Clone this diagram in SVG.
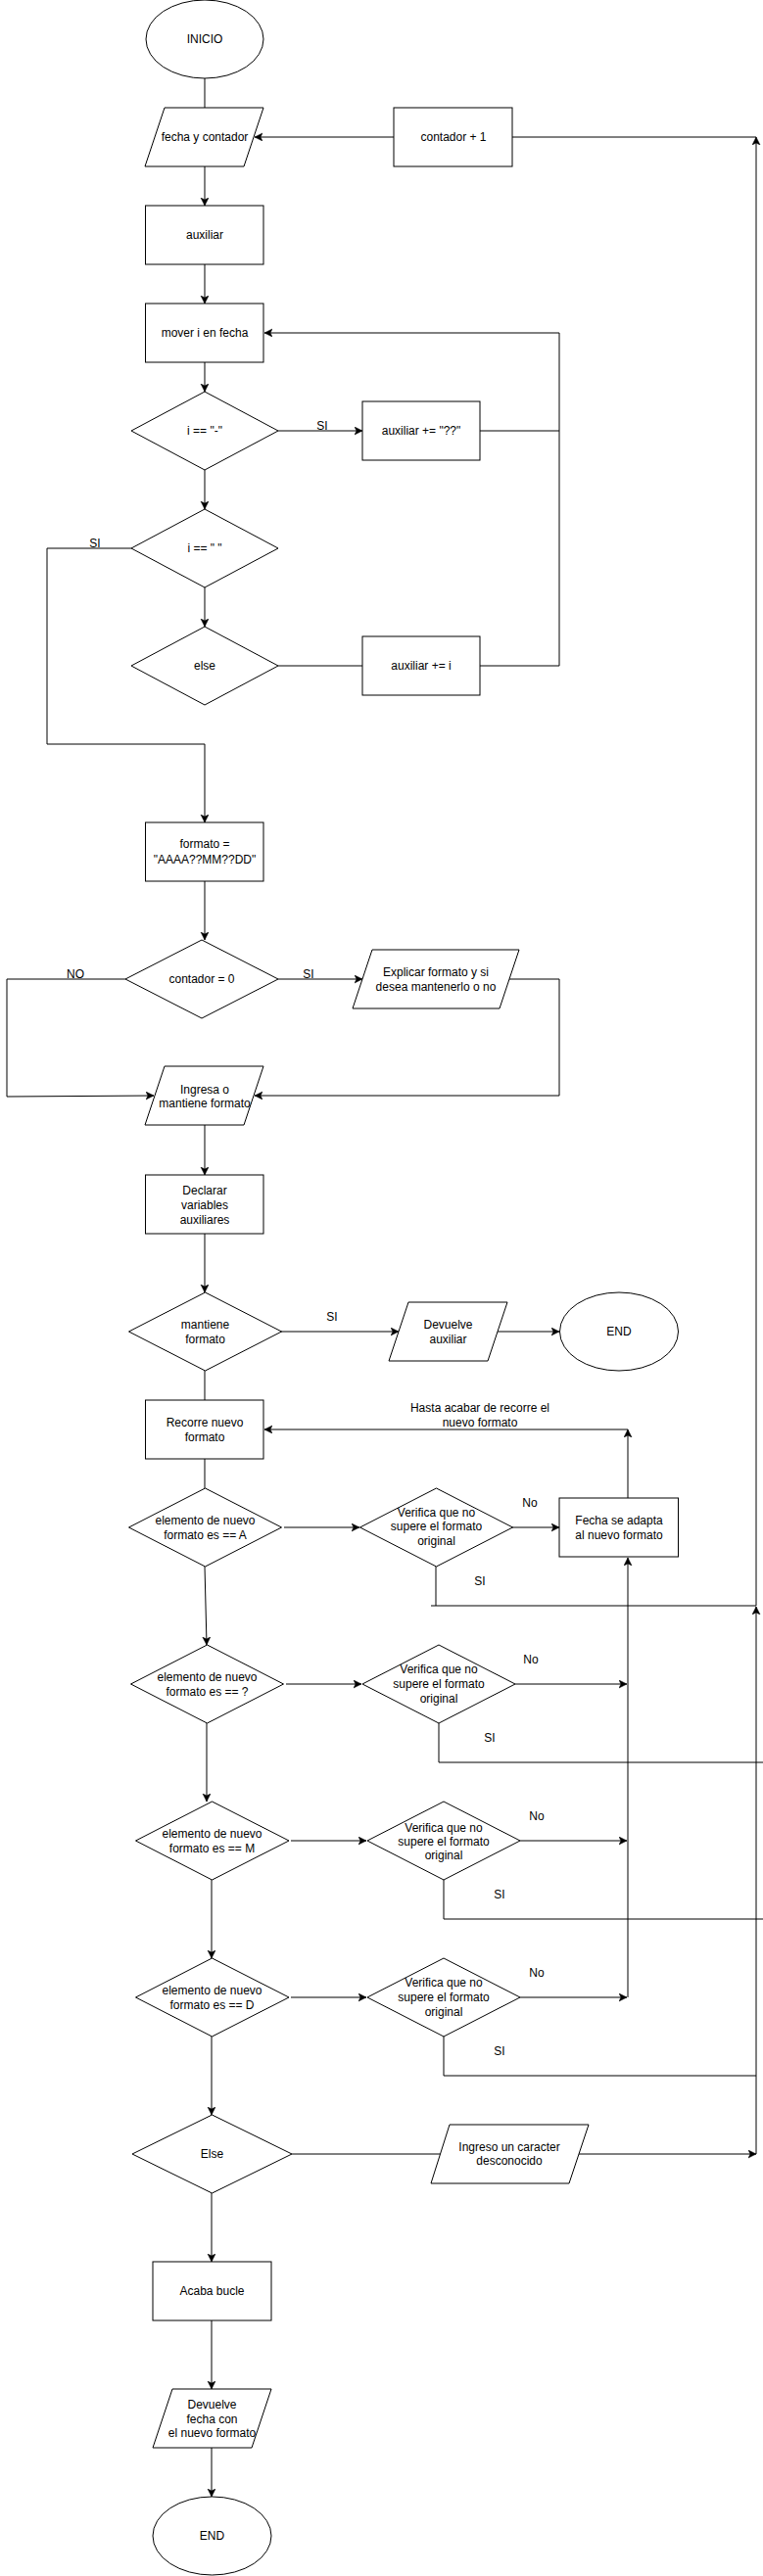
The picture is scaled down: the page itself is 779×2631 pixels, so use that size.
<svg xmlns="http://www.w3.org/2000/svg" width="779" height="2631" viewBox="0 0 779 2631">
<style>
.s{fill:#fff;stroke:#000;stroke-width:1}
.c{fill:none;stroke:#000;stroke-width:1}
.a{marker-end:url(#ah)}
text{font-family:"Liberation Sans",Arial,sans-serif;font-size:12px;fill:#000;text-anchor:middle;dominant-baseline:central}
</style>
<defs>
<marker id="ah" markerUnits="userSpaceOnUse" markerWidth="10" markerHeight="10" refX="8" refY="4" orient="auto">
<path d="M0,0 L8,4 L0,8 L2,4 Z" fill="#000" stroke="#000" stroke-width="0.5"/>
</marker>
</defs>
<rect width="779" height="2631" fill="#fff"/>
<g id="connectors">
<path class="c" d="M209,80 V110"/>
<path class="c a" d="M209,170 V210"/>
<path class="c a" d="M402,140 H260"/>
<path class="c a" d="M209,270 V310"/>
<path class="c a" d="M209,370 V400"/>
<path class="c a" d="M284,440 H370"/>
<path class="c a" d="M490,440 H571 V340 H270"/>
<path class="c a" d="M209,480 V520"/>
<path class="c a" d="M209,600 V640"/>
<path class="c a" d="M134,560 H48 V760 H209 V840"/>
<path class="c" d="M284,680 H370"/>
<path class="c" d="M490,680 H571 V440"/>
<path class="c a" d="M209,900 V960"/>
<path class="c a" d="M284,1000 H370"/>
<path class="c a" d="M520,1000 H571 V1119 H260"/>
<path class="c a" d="M128,1000 H7 V1120 L157,1119"/>
<path class="c a" d="M209,1149 V1200"/>
<path class="c a" d="M209,1260 V1320"/>
<path class="c a" d="M287,1360 H407"/>
<path class="c a" d="M508,1360 H571"/>
<path class="c" d="M209,1400 V1430"/>
<path class="c" d="M209,1490 V1520"/>
<path class="c a" d="M290,1560 H367"/>
<path class="c a" d="M523,1560 H571"/>
<path class="c a" d="M641,1530 V1460"/>
<path class="c a" d="M641,1460 H270"/>
<path class="c" d="M445,1600 V1640"/>
<path class="c" d="M440,1640 H772"/>
<path class="c a" d="M772,1640 V140"/>
<path class="c" d="M523,140 H772"/>
<path class="c a" d="M209,1600 L211,1680"/>
<path class="c a" d="M292,1720 H369"/>
<path class="c a" d="M526,1720 H640"/>
<path class="c" d="M448,1760 V1800 H782"/>
<path class="c a" d="M211,1760 V1840"/>
<path class="c a" d="M297,1880 H374"/>
<path class="c a" d="M531,1880 H640"/>
<path class="c" d="M453,1920 V1960 H782"/>
<path class="c a" d="M216,1920 V2000"/>
<path class="c a" d="M297,2040 H374"/>
<path class="c a" d="M531,2040 H640"/>
<path class="c a" d="M641,2040 V1591"/>
<path class="c" d="M453,2080 V2120 H772"/>
<path class="c a" d="M216,2080 V2160"/>
<path class="c" d="M298,2200 H450"/>
<path class="c a" d="M591,2200 H772"/>
<path class="c a" d="M772,2200 V1641"/>
<path class="c a" d="M216,2240 V2310"/>
<path class="c a" d="M216,2370 V2440"/>
<path class="c a" d="M216,2500 V2550"/>
<text x="329" y="435">SI</text>
<text x="97" y="555">SI</text>
<text x="315" y="995">SI</text>
<text x="77" y="995">NO</text>
<text x="339" y="1345">SI</text>
<text x="490" y="1438">Hasta acabar de recorre el</text>
<text x="490" y="1453">nuevo formato</text>
<text x="541" y="1535">No</text>
<text x="490" y="1615">SI</text>
<text x="542" y="1695">No</text>
<text x="500" y="1775">SI</text>
<text x="548" y="1855">No</text>
<text x="510" y="1935">SI</text>
<text x="548" y="2015">No</text>
<text x="510" y="2095">SI</text>
</g>
<g id="inicio"><ellipse class="s" cx="209" cy="40" rx="60" ry="40"/><text x="209" y="40">INICIO</text></g>
<g id="fecha"><path class="s" d="M168,110 H269 L249,170 H148 Z"/><text x="209" y="140">fecha y contador</text></g>
<g id="contador1"><rect class="s" x="402" y="110" width="121" height="60"/><text x="463" y="140">contador + 1</text></g>
<g id="auxiliar"><rect class="s" x="148.5" y="210" width="120.5" height="60"/><text x="209" y="240">auxiliar</text></g>
<g id="mover"><rect class="s" x="148.5" y="310" width="120.5" height="60"/><text x="209" y="340">mover i en fecha</text></g>
<g id="d_guion"><path class="s" d="M209,400 L284,440 L209,480 L134,440 Z"/><text x="209" y="440">i == "-"</text></g>
<g id="aux_q"><rect class="s" x="370" y="410" width="120" height="60"/><text x="430" y="440">auxiliar += "??"</text></g>
<g id="d_esp"><path class="s" d="M209,520 L284,560 L209,600 L134,560 Z"/><text x="209" y="560">i == " "</text></g>
<g id="d_else"><path class="s" d="M209,640 L284,680 L209,720 L134,680 Z"/><text x="209" y="680">else</text></g>
<g id="aux_i"><rect class="s" x="370" y="650" width="120" height="60"/><text x="430" y="680">auxiliar += i</text></g>
<g id="formato"><rect class="s" x="148.5" y="840" width="120.5" height="60"/><text x="209" y="862">formato =</text><text x="209" y="878">"AAAA??MM??DD"</text></g>
<g id="d_contador"><path class="s" d="M206,960 L284,1000 L206,1040 L128,1000 Z"/><text x="206" y="1000">contador = 0</text></g>
<g id="explicar"><path class="s" d="M380,970 H530 L510,1030 H360 Z"/><text x="445" y="993">Explicar formato y si</text><text x="445" y="1008">desea mantenerlo o no</text></g>
<g id="ingresa"><path class="s" d="M168,1089 H269 L249,1149 H148 Z"/><text x="209" y="1113">Ingresa o</text><text x="209" y="1127">mantiene formato</text></g>
<g id="declarar"><rect class="s" x="148.5" y="1200" width="120.5" height="60"/><text x="209" y="1216">Declarar</text><text x="209" y="1231">variables</text><text x="209" y="1246">auxiliares</text></g>
<g id="d_mantiene"><path class="s" d="M209.5,1320 L287.5,1360 L209.5,1400 L131.5,1360 Z"/><text x="209.5" y="1353">mantiene</text><text x="209.5" y="1368">formato</text></g>
<g id="devuelve_aux"><path class="s" d="M417,1330 H518 L498,1390 H397 Z"/><text x="457.5" y="1353">Devuelve</text><text x="457.5" y="1368">auxiliar</text></g>
<g id="end1"><ellipse class="s" cx="632" cy="1360" rx="60.5" ry="40"/><text x="632" y="1360">END</text></g>
<g id="recorre"><rect class="s" x="148.5" y="1430" width="120.5" height="60"/><text x="209" y="1453">Recorre nuevo</text><text x="209" y="1468">formato</text></g>
<g id="d_A"><path class="s" d="M209.5,1520 L287.5,1560 L209.5,1600 L131.5,1560 Z"/><text x="209.5" y="1553">elemento de nuevo</text><text x="209.5" y="1568">formato es == A</text></g>
<g id="v1"><path class="s" d="M445.5,1520 L523.5,1560 L445.5,1600 L367.5,1560 Z"/><text x="445.5" y="1545">Verifica que no</text><text x="445.5" y="1559">supere el formato</text><text x="445.5" y="1574">original</text></g>
<g id="fecha_adapta"><rect class="s" x="571" y="1530" width="121.5" height="60"/><text x="632" y="1553">Fecha se adapta</text><text x="632" y="1568">al nuevo formato</text></g>
<g id="d_Q"><path class="s" d="M211.5,1680 L289.5,1720 L211.5,1760 L133.5,1720 Z"/><text x="211.5" y="1713">elemento de nuevo</text><text x="211.5" y="1728">formato es == ?</text></g>
<g id="v2"><path class="s" d="M448,1680 L526,1720 L448,1760 L370,1720 Z"/><text x="448" y="1705">Verifica que no</text><text x="448" y="1720">supere el formato</text><text x="448" y="1735">original</text></g>
<g id="d_M"><path class="s" d="M216.5,1840 L295,1880 L216.5,1920 L138.5,1880 Z"/><text x="216.5" y="1873">elemento de nuevo</text><text x="216.5" y="1888">formato es == M</text></g>
<g id="v3"><path class="s" d="M453,1840 L531,1880 L453,1920 L375,1880 Z"/><text x="453" y="1867">Verifica que no</text><text x="453" y="1881">supere el formato</text><text x="453" y="1895">original</text></g>
<g id="d_D"><path class="s" d="M216.5,2000 L295,2040 L216.5,2080 L138.5,2040 Z"/><text x="216.5" y="2033">elemento de nuevo</text><text x="216.5" y="2048">formato es == D</text></g>
<g id="v4"><path class="s" d="M453,2000 L531,2040 L453,2080 L375,2040 Z"/><text x="453" y="2025">Verifica que no</text><text x="453" y="2040">supere el formato</text><text x="453" y="2055">original</text></g>
<g id="d_Else"><path class="s" d="M216.5,2160 L298,2200 L216.5,2240 L135,2200 Z"/><text x="216.5" y="2200">Else</text></g>
<g id="ingreso"><path class="s" d="M459,2170 H601 L581,2230 H440 Z"/><text x="520" y="2193">Ingreso un caracter</text><text x="520" y="2207">desconocido</text></g>
<g id="acaba"><rect class="s" x="156" y="2310" width="121" height="60"/><text x="216.5" y="2340">Acaba bucle</text></g>
<g id="devuelve_fecha"><path class="s" d="M176,2440 H277 L257,2500 H156 Z"/><text x="216.5" y="2456">Devuelve</text><text x="216.5" y="2471">fecha con</text><text x="216.5" y="2485">el nuevo formato</text></g>
<g id="end2"><ellipse class="s" cx="216.5" cy="2590" rx="60.5" ry="40"/><text x="216.5" y="2590">END</text></g>
</svg>
